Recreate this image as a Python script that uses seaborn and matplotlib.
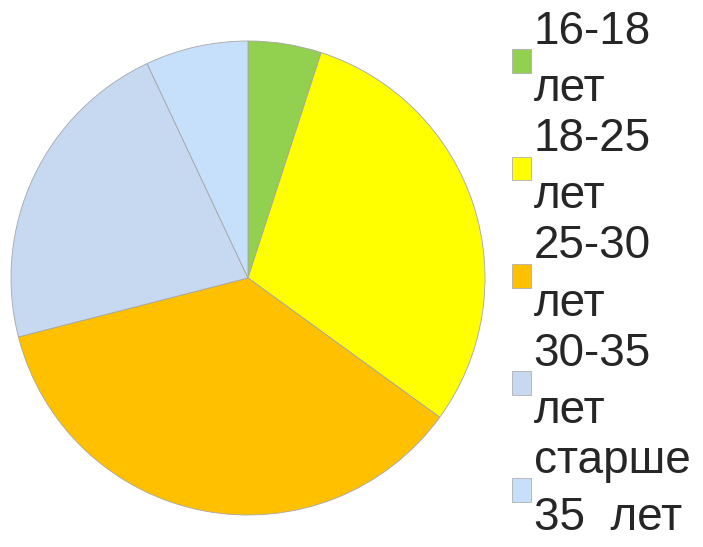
import matplotlib
matplotlib.use("Agg")
import matplotlib.pyplot as plt
import seaborn as sns
from matplotlib.patches import Patch

categories = ["16-18\nлет", "18-25\nлет", "25-30\nлет", "30-35\nлет", "старше\n35  лет"]
values = [5, 30, 36, 22, 7]
colors = ["#92D050", "#FFFF00", "#FFC000", "#C6D9F1", "#C6DFFA"]

sns.set_theme(style="white")
plt.rcParams['font.family'] = ['Liberation Sans', 'DejaVu Sans']

fig = plt.figure(figsize=(7.03, 5.47), dpi=100)
ax = fig.add_axes([11/703, (547-515)/547, 474/703, 474/547])
ax.pie(values, colors=colors, startangle=90, counterclock=False, radius=1,
       wedgeprops=dict(edgecolor="#A6A6A6", linewidth=0.6))
ax.set_xlim(-1.0, 1.0)
ax.set_ylim(-1.0, 1.0)
ax.set_axis_off()

handles = [Patch(facecolor=c, edgecolor="#B0B0B0", linewidth=0.6) for c in colors]
leg = fig.legend(handles, categories, loc="upper left", bbox_to_anchor=(512/703, 1 - 10/547),
                 frameon=False, fontsize=33, handlelength=0.42, handleheight=0.42,
                 handletextpad=0.05, labelspacing=0.13, borderaxespad=0, borderpad=0)
for t in leg.get_texts():
    t.set_linespacing(1.39)

fig.savefig("out.png", dpi=100, facecolor="white")
